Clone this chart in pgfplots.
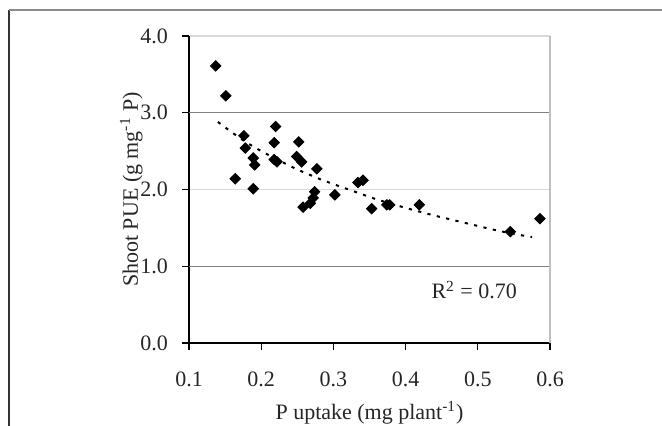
\documentclass[border=0pt]{standalone}
\usepackage{fontspec}
\setmainfont{Liberation Serif}
\usepackage{pgfplots}
\pgfplotsset{compat=1.18}

\begin{document}
\begin{tikzpicture}[font=\fontsize{11}{13}\selectfont]
\useasboundingbox (-94.5pt,-41.5pt) rectangle (236.5pt,171.5pt);
% outer chart frame
\draw[black!80, line width=0.6pt] (-90pt,-41.5pt) -- (-90pt,166.5pt);
\draw[black!45, line width=0.8pt] (-90pt,166.5pt) -- (236.5pt,166.5pt);
\begin{axis}[
    at={(0,0)}, anchor=south west,
    scale only axis,
    width=180.5pt, height=153.5pt,
    xmin=0.1, xmax=0.6, ymin=0, ymax=4,
    xtick={0.1,0.2,0.3,0.4,0.5,0.6},
    ytick={0,2,4},
    extra y ticks={1,3},
    extra y tick style={grid style={black!50, line width=0.6pt}},
    ymajorgrids,
    grid style={black!15, line width=0.6pt},
    axis lines*=left,
    axis line style={black, line width=0.6pt},
    tick style={black, line width=0.6pt},
    tick align=outside,
    major tick length=3.5pt,
    /pgf/number format/assume math mode=true,
    /pgf/number format/.cd, fixed, fixed zerofill, precision=1,
    /pgfplots/.cd,
    xticklabel style={yshift=-7.5pt, text=black!85},
    yticklabel style={xshift=-3.5pt, text=black!85},
    xlabel={P uptake (mg plant\textsuperscript{-1})},
    ylabel={Shoot PUE (g mg\textsuperscript{-1} P)},
    xlabel style={at={(0.5,0)}, anchor=center, yshift=-35pt, text=black!85},
    ylabel style={yshift=-15pt, text=black!85},
    clip=false,
]
\addplot[only marks, mark=square*, mark size=1.85pt, black,
    every mark/.append style={rotate=45}] coordinates {
    (0.137,3.61) (0.151,3.22) (0.176,2.70) (0.178,2.54) (0.164,2.14)
    (0.189,2.41) (0.191,2.32) (0.189,2.01) (0.220,2.82) (0.218,2.61)
    (0.218,2.39) (0.222,2.36) (0.252,2.62) (0.249,2.43) (0.256,2.36)
    (0.277,2.27) (0.274,1.97) (0.272,1.89) (0.268,1.82) (0.258,1.77)
    (0.302,1.93) (0.334,2.09) (0.341,2.12) (0.353,1.75) (0.374,1.80)
    (0.378,1.80) (0.419,1.80) (0.545,1.45) (0.586,1.62)
};
% logarithmic trend line
\addplot[black, line width=1pt, dash pattern=on 1.6pt off 3.2pt] coordinates {
    (0.140,2.88) (0.160,2.74) (0.180,2.61) (0.200,2.50) (0.220,2.40)
    (0.250,2.26) (0.280,2.14) (0.300,2.07) (0.330,1.97) (0.360,1.87)
    (0.400,1.76) (0.440,1.66) (0.480,1.57) (0.520,1.48) (0.550,1.42)
    (0.575,1.38)
};
\draw[black!25, line width=0.6pt] (rel axis cs:1,0) -- (rel axis cs:1,1);
\node[text=black!85] at (axis cs:0.495,0.69) {R\textsuperscript{2} = 0.70};
\end{axis}
\end{tikzpicture}
\end{document}
